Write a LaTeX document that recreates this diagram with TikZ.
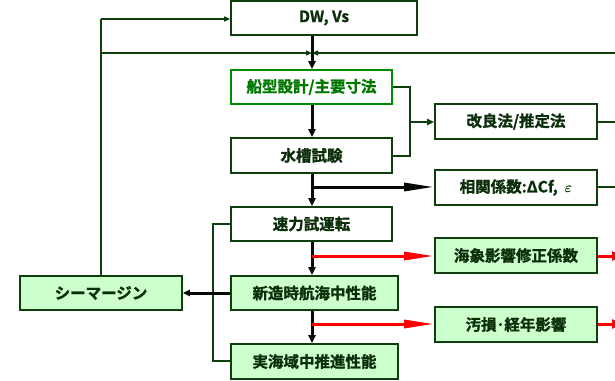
\documentclass[tikz,border=0pt]{standalone}
\usepackage{fontspec}
\setmainfont{Noto Sans CJK JP}[BoldFont={Noto Sans CJK JP Bold}, BoldFeatures={FakeBold=1.3}]
\usetikzlibrary{arrows.meta}
\definecolor{dkg}{RGB}{14,62,14}
\definecolor{txg}{RGB}{10,45,10}
\definecolor{brg}{RGB}{0,140,0}
\definecolor{brt}{RGB}{0,120,0}
\definecolor{lg}{RGB}{204,255,204}
\tikzset{
  box/.style={draw=dkg, line width=1.6pt, fill=white, text=txg, font=\fontsize{15.5}{17}\selectfont\bfseries, inner sep=0pt, anchor=center},
  gbox/.style={box, fill=lg},
  wire/.style={draw=dkg, line width=1.4pt},
  flow/.style={draw=black!80!dkg, line width=3pt, -{Triangle[length=8pt,width=7pt]}},
  small/.style={wire, -{Triangle[length=6pt,width=5pt]}},
  thick/.style={draw=black!85!dkg, line width=3pt, -{Stealth[length=30pt,width=8pt,inset=0pt]}},
  redarr/.style={draw=red, line width=3pt, -{Stealth[length=30pt,width=8pt,inset=0pt]}},
  redend/.style={draw=red, line width=3pt, -{Stealth[length=10pt,width=9pt,inset=0pt]}}
}
\begin{document}
\begin{tikzpicture}[x=1pt,y=-1pt]
\useasboundingbox (0,0) rectangle (615,380);
% boxes
\node[box, minimum width=186pt, minimum height=34pt] (dw) at (324,18) {DW, Vs};
\node[box, draw=brg, text=brt, minimum width=161pt, minimum height=34pt] (sen) at (311.5,87) {船型設計/主要寸法};
\node[box, minimum width=161pt, minimum height=35pt] (sui) at (311.5,155.5) {水槽試験};
\node[box, minimum width=161pt, minimum height=34pt] (sok) at (311.5,224) {速力試運転};
\node[gbox, minimum width=167pt, minimum height=34pt] (shin) at (314.5,293) {新造時航海中性能};
\node[gbox, minimum width=167pt, minimum height=35pt] (jitsu) at (314.5,361.5) {実海域中推進性能};
\node[gbox, minimum width=162pt, minimum height=34pt] (sea) at (101,293) {シーマージン};
\node[box, minimum width=162pt, minimum height=35pt] (kai) at (516,121.5) {改良法/推定法};
\node[box, minimum width=162pt, minimum height=35pt] (sou) at (516,187.5) {相関係数:ΔCf,\ \ {\boldmath$\varepsilon$}};
\node[gbox, minimum width=162pt, minimum height=35pt] (kaisho) at (516,255.5) {海象影響修正係数};
\node[gbox, minimum width=162pt, minimum height=35pt] (oson) at (516,324.5) {汚損･経年影響};
% coordinates
\coordinate (tl) at (101,19);
\coordinate (ml) at (101,53);
\coordinate (mm) at (312,53);
\coordinate (mr) at (616,53);
\coordinate (bx1) at (410,87);
\coordinate (bx2) at (410,156);
\coordinate (bxm) at (410,122);
\coordinate (lx1) at (213,224);
\coordinate (lx2) at (213,361);
\coordinate (r1) at (616,122);
\coordinate (r2) at (616,187);
\coordinate (r3) at (622,256);
\coordinate (r4) at (622,324);
\coordinate (j1) at (312,187);
\coordinate (j2) at (312,256);
\coordinate (j3) at (312,324);
% left loop
\draw[wire] (sea.north) -- (tl);
\draw[small] (tl) -- (dw.west |- tl);
\draw[small] (ml) -- (mm);
\draw[small] (mr) -- (mm);
% main flow
\draw[flow] (dw.south -| mm) -- (sen.north -| mm);
\draw[flow] (sen.south -| mm) -- (sui.north -| mm);
\draw[flow] (sui.south -| mm) -- (sok.north -| mm);
\draw[flow] (sok.south -| mm) -- (shin.north -| mm);
\draw[flow] (shin.south -| mm) -- (jitsu.north -| mm);
% bracket to kai
\draw[wire] (sen.east |- bx1) -- (bx1) -- (bx2) -- (sui.east |- bx2);
\draw[wire, line width=2.4pt, -{Triangle[length=7pt,width=6pt]}] (bxm) -- (kai.west |- bxm);
% branches
\draw[thick] (j1) -- (sou.west |- j1);
\draw[redarr] (j2) -- (kaisho.west |- j2);
\draw[redarr] (j3) -- (oson.west |- j3);
% left bracket
\draw[wire] (sok.west |- lx1) -- (lx1) -- (lx2) -- (jitsu.west |- lx2);
\draw[draw=black!85!dkg, line width=3pt, -{Triangle[length=7pt,width=6pt]}] (shin.west) -- (sea.east);
% right edge
\draw[wire] (kai.east |- r1) -- (r1);
\draw[wire] (sou.east |- r2) -- (r2);
\draw[redend] (kaisho.east |- r3) -- (r3);
\draw[redend] (oson.east |- r4) -- (r4);
\end{tikzpicture}
\end{document}
